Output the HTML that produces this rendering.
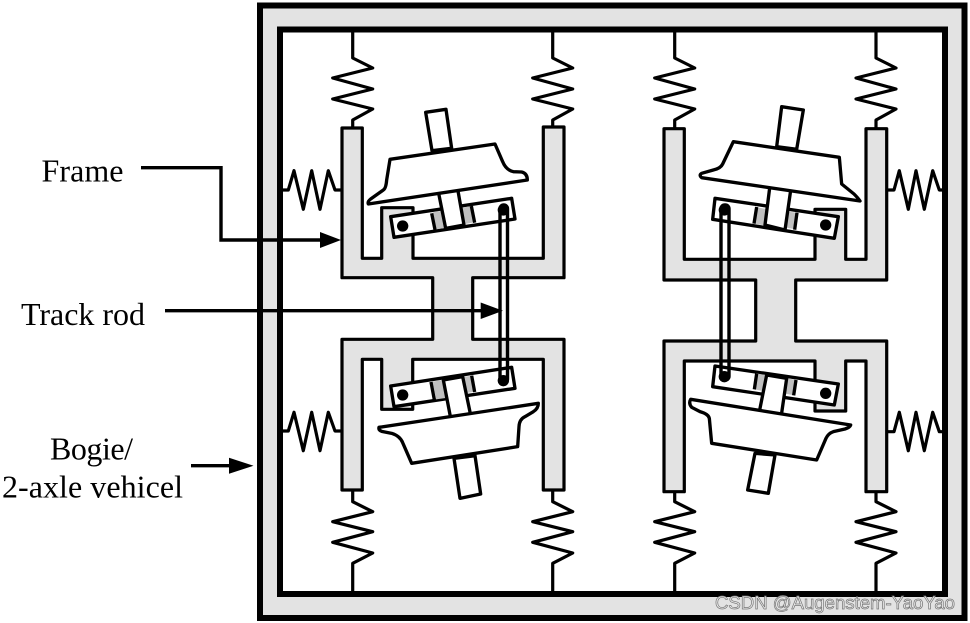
<!DOCTYPE html>
<html><head><meta charset="utf-8"><style>
html,body{margin:0;padding:0;background:#fff;width:970px;height:623px;overflow:hidden}
svg{display:block}
text{font-family:"Liberation Serif",serif;font-size:32px;fill:#000}
.f{fill:#e3e3e3;stroke:#000;stroke-width:3.2;stroke-linejoin:round}
.s{fill:none;stroke:#000;stroke-width:3.2;stroke-linejoin:round}
.q path,.q polygon{stroke:#000;stroke-width:10;stroke-linejoin:round}
.q line{stroke:#000;stroke-width:10}
.w{fill:#fff}
.q polygon.g{fill:#c0c0c0;stroke:none}
</style></head><body>
<svg width="970" height="623" viewBox="0 0 970 623" xmlns="http://www.w3.org/2000/svg">
<rect width="970" height="623" fill="#fff"/>
<rect x="260" y="5.5" width="704.5" height="612.5" fill="#e3e3e3" stroke="#000" stroke-width="6"/>
<rect x="280" y="29.5" width="665" height="564.5" fill="#fff" stroke="#000" stroke-width="6"/>

<!-- springs -->
<g class="s">
<polyline points="352.7,30 352.7,58 372.7,68 332.7,78 372.7,89 332.7,99 372.7,109 352.7,120 352.7,128"/>
<polyline points="552.7,30 552.7,58 572.7,68 532.7,78 572.7,89 532.7,99 572.7,109 552.7,120 552.7,128"/>
<polyline points="674.7,30 674.7,58 694.7,68 654.7,78 694.7,89 654.7,99 694.7,109 674.7,120 674.7,128"/>
<polyline points="876,30 876,58 896,68 856,78 896,89 856,99 896,109 876,120 876,128"/>
<polyline points="352.7,490 352.7,501.7 372.7,511.7 332.7,521.7 372.7,531.7 332.7,542.3 372.7,553 352.7,563.3 352.7,594"/>
<polyline points="552.7,490 552.7,501.7 572.7,511.7 532.7,521.7 572.7,531.7 532.7,542.3 572.7,553 552.7,563.3 552.7,594"/>
<polyline points="674.7,490 674.7,501.7 694.7,511.7 654.7,521.7 694.7,531.7 654.7,542.3 694.7,553 674.7,563.3 674.7,594"/>
<polyline points="876,490 876,501.7 896,511.7 856,521.7 896,531.7 856,542.3 896,553 876,563.3 876,594"/>
<polyline points="283,190 288.3,190 294,170.7 303.3,209.3 311.7,170.7 320,209.3 328.3,170.7 335,190 341,190"/>
<polyline points="283,431 288.3,431 294,412.3 303.3,450.7 311.7,412.3 320,450.7 328.3,412.3 335,431 341,431"/>
<polyline points="887,190 894,190 899.3,170.7 908.3,209.3 916,170.7 924.3,209.3 932.7,170.7 939.3,190 944,190"/>
<polyline points="887,431.7 894,431.7 899.3,412.3 908.3,450.7 916,412.3 924.3,450.7 932.7,412.3 939.3,431.7 944,431.7"/>
</g>

<!-- frames -->
<polygon class="f" points="342,128 362.3,128 362.3,258.3 381.7,258.3 381.7,207.7 413,207.7 413,258.3 543.3,258.3 543.3,127 564,127 564,277.7 472.7,277.7 472.7,339.3 564,339.3 564,490 543.3,490 543.3,359.3 412.7,359.3 412.7,409.3 381.7,409.3 381.7,359.3 362.3,359.3 362.3,490 342,490 342,339.3 432.7,339.3 432.7,277.7 342,277.7"/>
<polygon class="f" points="664,128.7 684.3,128.7 684.3,259.3 815,259.3 815,209.3 845.7,209.3 845.7,259.3 866,259.3 866,128.7 886.7,128.7 886.7,280 795.7,280 795.7,341 886.7,341 886.7,491.7 866,491.7 866,361 845.7,361 845.7,411 815,411 815,361 684.3,361 684.3,491.7 664,491.7 664,341 755.7,341 755.7,280 664,280"/>

<!-- top-left wheelset -->
<g class="q" transform="translate(280,20) scale(.33333)">
<polygon class="w" points="332,590 695,535 705,597 342,652"/>
<polygon class="g" points="458,577 495,571 505,622 468,628"/>
<polygon class="g" points="540,564 578,558 587,606 550,613"/>
<line x1="455" y1="580" x2="465" y2="629"/>
<line x1="574" y1="558" x2="584" y2="608"/>
<polygon class="w" points="472,500 530,490 552,615 497,625"/>
<polygon class="w" points="437,277 498,268 515,385 456,392"/>
<path class="w" d="M330,418L645,372L668,425Q678,450 700,455L725,456Q742,460 742,480L265,552Q262,545 272,537L310,510Q318,505 320,480Z"/>
<circle cx="368" cy="618" r="17" fill="#000"/><circle cx="670" cy="570" r="17" fill="#000"/>
</g>
<!-- bottom-left wheelset -->
<g class="q" transform="translate(280,310) scale(.33333)">
<polygon class="w" points="332,228 695,172 705,235 342,290"/>
<polygon class="g" points="458,215 500,208 510,262 468,268"/>
<polygon class="g" points="540,202 578,197 586,245 552,250"/>
<line x1="453" y1="216" x2="463" y2="269"/>
<line x1="575" y1="197" x2="584" y2="246"/>
<polygon class="w" points="490,210 548,200 575,330 515,340"/>
<polygon class="w" points="522,445 585,437 602,552 540,565"/>
<path class="w" d="M297,352L775,280Q775,295 760,305L735,320Q718,328 717,350L713,410L395,460L368,398Q360,378 335,370L305,364Q295,360 297,352Z"/>
<circle cx="368" cy="255" r="17" fill="#000"/><circle cx="670" cy="212" r="17" fill="#000"/>
</g>
<!-- top-right wheelset -->
<g class="q" transform="translate(650,20) scale(.33333)">
<polygon class="w" points="195,535 565,590 553,655 188,598"/>
<polygon class="g" points="318,562 360,568 350,618 312,610"/>
<polygon class="g" points="400,574 442,578 436,628 395,620"/>
<line x1="320" y1="561" x2="312" y2="611"/>
<line x1="441" y1="578" x2="434" y2="629"/>
<polygon class="w" points="362,480 425,490 405,630 345,615"/>
<polygon class="w" points="395,260 460,270 440,388 380,380"/>
<path class="w" d="M250,365L568,412L575,492L612,522Q625,535 630,543L155,473Q146,465 155,460L190,450Q212,445 218,432Z"/>
<circle cx="527" cy="615" r="17" fill="#000"/><circle cx="223" cy="570" r="17" fill="#000"/>
</g>
<!-- bottom-right wheelset -->
<g class="q" transform="translate(650,310) scale(.33333)">
<polygon class="w" points="195,168 565,222 553,285 188,230"/>
<polygon class="g" points="318,190 360,197 350,245 312,238"/>
<polygon class="g" points="400,203 440,210 432,256 392,248"/>
<line x1="320" y1="191" x2="313" y2="238"/>
<line x1="438" y1="210" x2="431" y2="256"/>
<polygon class="w" points="350,195 410,205 392,330 325,320"/>
<polygon class="w" points="315,430 375,435 355,550 293,540"/>
<path class="w" d="M122,268L602,345Q600,352 585,357L550,365Q535,370 528,385L500,450L185,400L178,325Q175,312 150,305L125,292Q115,280 122,268Z"/>
<circle cx="527" cy="250" r="17" fill="#000"/><circle cx="223" cy="200" r="17" fill="#000"/>
</g>

<!-- track rods -->
<rect x="500" y="205" width="7.5" height="178" rx="3.7" fill="none" stroke="#000" stroke-width="3.4"/>
<rect x="721" y="205" width="8" height="175" rx="3.7" fill="none" stroke="#000" stroke-width="3.4"/>

<!-- leaders -->
<polyline points="141,167.7 221,167.7 221,240 322,240" fill="none" stroke="#000" stroke-width="3.4"/>
<polygon points="320,232 341,240 320,248" fill="#000"/>
<line x1="165" y1="310.7" x2="482" y2="310.7" stroke="#000" stroke-width="3.4"/>
<polygon points="480.7,302.5 503,310.7 480.7,319" fill="#000"/>
<line x1="191" y1="465.7" x2="231" y2="465.7" stroke="#000" stroke-width="3.4"/>
<polygon points="229,457.7 253.5,465.7 229,473.7" fill="#000"/>

<text x="41.5" y="181.7" textLength="82">Frame</text>
<text x="21" y="325" textLength="124">Track rod</text>
<text x="50" y="459.3" textLength="83">Bogie/</text>
<text x="2" y="497.7" textLength="181">2-axle vehicel</text>
<text x="715" y="609" textLength="240" lengthAdjust="spacingAndGlyphs" style="font-family:'Liberation Sans',sans-serif;font-size:18px;fill:#ececec;stroke:#777;stroke-width:.7">CSDN @Augenstem-YaoYao</text>
</svg>
</body></html>
